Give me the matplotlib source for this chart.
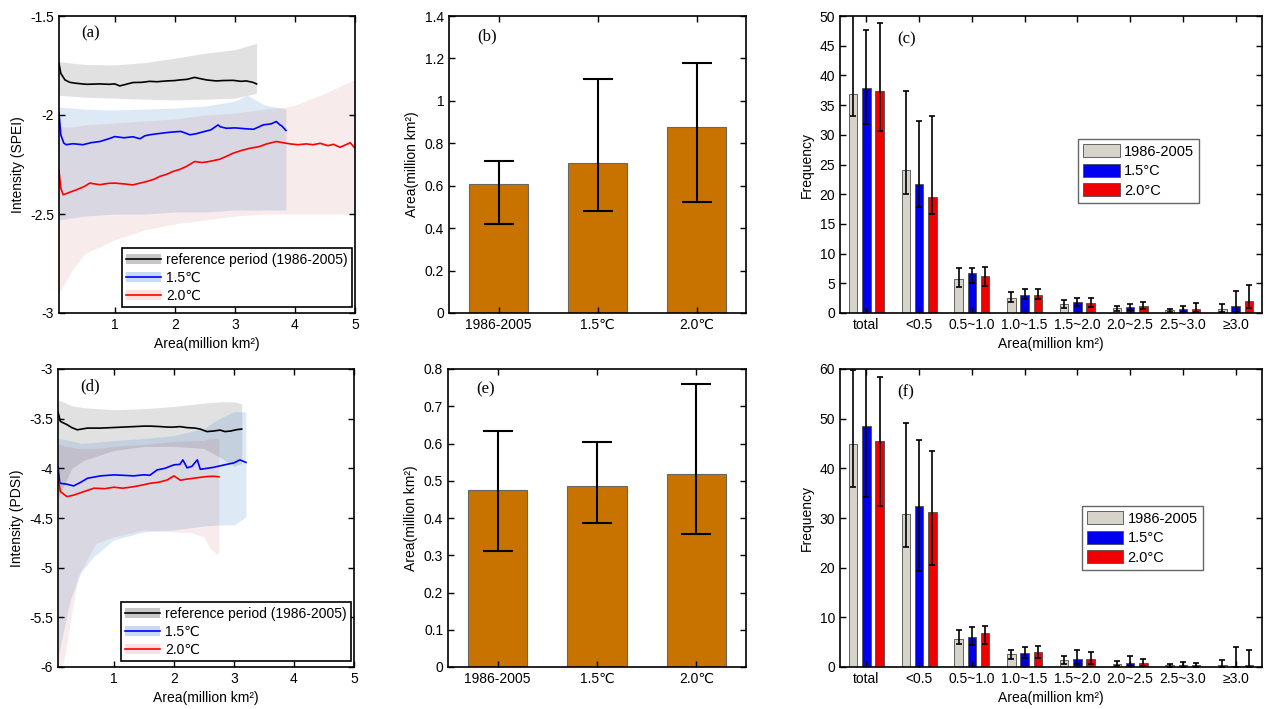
import numpy as np
import matplotlib
matplotlib.use("Agg")
import matplotlib.pyplot as plt
from matplotlib.patches import Patch
from matplotlib.lines import Line2D
from matplotlib.ticker import FuncFormatter

plt.rcParams["font.family"] = ["Liberation Sans", "DejaVu Sans"]
plt.rcParams["font.size"] = 10
plt.rcParams["axes.unicode_minus"] = False

# ---------------- data: panel (a) SPEI ----------------
spei_ref_x = [0.07, 0.1, 0.17, 0.25, 0.36, 0.53, 0.75, 0.9, 1.0, 1.08, 1.15, 1.3, 1.45, 1.58, 1.7,
              1.86, 2.0, 2.08, 2.2, 2.33, 2.4, 2.53, 2.69, 2.8, 2.97, 3.1, 3.19, 3.3, 3.36]
spei_ref_y = [-1.74, -1.79, -1.823, -1.835, -1.84, -1.845, -1.843, -1.845, -1.843, -1.853, -1.848,
              -1.836, -1.835, -1.83, -1.832, -1.828, -1.826, -1.823, -1.82, -1.81, -1.815, -1.823,
              -1.828, -1.826, -1.825, -1.83, -1.828, -1.835, -1.843]
spei_15_x = [0.07, 0.1, 0.15, 0.19, 0.3, 0.47, 0.6, 0.75, 0.9, 1.0, 1.15, 1.3, 1.42, 1.5, 1.58, 1.7,
             1.86, 2.0, 2.1, 2.25, 2.35, 2.47, 2.6, 2.72, 2.76, 2.86, 3.0, 3.08, 3.2, 3.31, 3.4, 3.47,
             3.6, 3.69, 3.75, 3.78, 3.85]
spei_15_y = [-1.99, -2.1, -2.142, -2.15, -2.145, -2.15, -2.14, -2.134, -2.12, -2.109, -2.115, -2.11,
             -2.12, -2.105, -2.10, -2.095, -2.089, -2.085, -2.083, -2.1, -2.095, -2.085, -2.075, -2.05,
             -2.06, -2.067, -2.065, -2.067, -2.07, -2.072, -2.06, -2.05, -2.045, -2.033, -2.05, -2.055,
             -2.078]
spei_20_x = [0.07, 0.1, 0.14, 0.25, 0.36, 0.5, 0.58, 0.75, 0.9, 1.0, 1.15, 1.3, 1.53, 1.65, 1.75, 1.86,
             1.97, 2.08, 2.19, 2.33, 2.45, 2.53, 2.65, 2.75, 2.85, 2.97, 3.1, 3.25, 3.4, 3.53, 3.69, 3.8,
             3.92, 4.05, 4.19, 4.3, 4.42, 4.55, 4.64, 4.75, 4.85, 4.92, 5.0]
spei_20_y = [-2.28, -2.37, -2.403, -2.39, -2.378, -2.36, -2.344, -2.352, -2.345, -2.344, -2.348, -2.353,
             -2.336, -2.325, -2.31, -2.3, -2.285, -2.275, -2.26, -2.235, -2.24, -2.237, -2.23, -2.223,
             -2.21, -2.193, -2.18, -2.168, -2.16, -2.146, -2.134, -2.14, -2.146, -2.15, -2.146, -2.15,
             -2.143, -2.155, -2.148, -2.163, -2.15, -2.14, -2.168]
# uncertainty ranges
spei_ref_band_x = [0.07, 0.5, 1.0, 1.5, 2.0, 2.5, 3.0, 3.36]
spei_ref_band_hi = [-1.73, -1.745, -1.747, -1.735, -1.713, -1.688, -1.67, -1.638]
spei_ref_band_lo = [-1.90, -1.91, -1.915, -1.92, -1.924, -1.92, -1.915, -1.89]
spei_15_band_x = [0.07, 0.5, 1.0, 1.5, 2.0, 2.5, 3.0, 3.2, 3.5, 3.85]
spei_15_band_hi = [-1.96, -1.97, -1.975, -1.97, -1.965, -1.955, -1.93, -1.90, -1.95, -1.97]
spei_15_band_lo = [-2.53, -2.51, -2.50, -2.50, -2.49, -2.49, -2.48, -2.48, -2.48, -2.48]
spei_20_band_x = [0.07, 0.3, 0.5, 1.0, 1.5, 2.0, 2.5, 3.0, 3.5, 3.85, 4.0, 4.5, 5.0]
spei_20_band_hi = [-2.06, -2.06, -2.05, -2.04, -2.03, -2.02, -2.0, -1.99, -1.97, -1.96, -1.95, -1.89, -1.82]
spei_20_band_lo = [-2.9, -2.78, -2.7, -2.63, -2.58, -2.55, -2.53, -2.51, -2.5, -2.5, -2.5, -2.5, -2.5]

# ---------------- data: panel (d) PDSI ----------------
pdsi_ref_x = [0.07, 0.11, 0.22, 0.3, 0.39, 0.56, 0.78, 1.0, 1.15, 1.33, 1.5, 1.61, 1.78, 1.9, 2.0, 2.1,
              2.22, 2.35, 2.44, 2.55, 2.65, 2.77, 2.85, 2.94, 3.05, 3.13]
pdsi_ref_y = [-3.43, -3.528, -3.56, -3.59, -3.612, -3.595, -3.595, -3.589, -3.585, -3.58, -3.575, -3.575,
              -3.58, -3.585, -3.585, -3.58, -3.59, -3.595, -3.605, -3.63, -3.625, -3.615, -3.63, -3.625,
              -3.61, -3.605]
pdsi_15_x = [0.07, 0.1, 0.22, 0.33, 0.45, 0.56, 0.78, 1.0, 1.15, 1.33, 1.5, 1.6, 1.72, 1.85, 2.0, 2.1,
             2.15, 2.22, 2.3, 2.39, 2.44, 2.55, 2.66, 2.77, 2.88, 3.0, 3.1, 3.2]
pdsi_15_y = [-3.98, -4.15, -4.16, -4.177, -4.14, -4.1, -4.076, -4.066, -4.07, -4.076, -4.065, -4.07,
             -4.016, -4.0, -3.965, -3.96, -3.915, -3.995, -3.98, -3.915, -4.01, -4.0, -3.99, -3.975,
             -3.96, -3.945, -3.915, -3.94]
pdsi_20_x = [0.07, 0.11, 0.22, 0.33, 0.45, 0.67, 0.85, 1.0, 1.15, 1.33, 1.5, 1.61, 1.75, 1.89, 2.0, 2.11,
             2.2, 2.33, 2.45, 2.55, 2.65, 2.75]
pdsi_20_y = [-4.1, -4.234, -4.285, -4.27, -4.245, -4.2, -4.205, -4.19, -4.2, -4.185, -4.165, -4.15, -4.14,
             -4.117, -4.076, -4.12, -4.11, -4.1, -4.09, -4.083, -4.08, -4.085]
pdsi_ref_band_x = [0.07, 0.3, 0.5, 1.0, 1.5, 2.0, 2.5, 2.8, 3.0, 3.13]
pdsi_ref_band_hi = [-3.31, -3.37, -3.39, -3.41, -3.40, -3.377, -3.343, -3.33, -3.33, -3.35]
pdsi_ref_band_lo = [-4.3, -4.0, -3.92, -3.82, -3.78, -3.78, -3.80, -3.9, -3.98, -3.95]
pdsi_15_band_x = [0.07, 0.27, 0.45, 0.66, 1.0, 1.5, 2.0, 2.5, 2.75, 3.0, 3.2]
pdsi_15_band_hi = [-3.7, -3.72, -3.75, -3.74, -3.72, -3.7, -3.67, -3.6, -3.5, -3.43, -3.43]
pdsi_15_band_lo = [-5.9, -5.33, -5.05, -4.89, -4.72, -4.64, -4.62, -4.58, -4.57, -4.57, -4.49]
pdsi_20_band_x = [0.07, 0.2, 0.4, 0.7, 1.0, 1.5, 2.0, 2.3, 2.5, 2.6, 2.7, 2.75]
pdsi_20_band_hi = [-3.75, -3.78, -3.8, -3.8, -3.78, -3.76, -3.73, -3.72, -3.72, -3.7, -3.7, -3.7]
pdsi_20_band_lo = [-6.2, -5.83, -5.09, -4.756, -4.69, -4.62, -4.64, -4.65, -4.69, -4.8, -4.86, -4.86]

# ---------------- data: panels (b), (e) mean area ----------------
periods = ["1986-2005", "1.5\u2103", "2.0\u2103"]
spei_area = [0.607, 0.708, 0.879]
spei_area_lo = [0.421, 0.480, 0.521]
spei_area_hi = [0.717, 1.104, 1.180]
pdsi_area = [0.475, 0.486, 0.518]
pdsi_area_lo = [0.311, 0.386, 0.357]
pdsi_area_hi = [0.634, 0.605, 0.761]

# ---------------- data: panels (c), (f) frequency ----------------
size_classes = ["total", "<0.5", "0.5~1.0", "1.0~1.5", "1.5~2.0", "2.0~2.5", "2.5~3.0", "\u22653.0"]
scen_labels = ["1986-2005", "1.5\u00b0C", "2.0\u00b0C"]

spei_freq_ref = [36.8, 24.1, 5.7, 2.6, 1.57, 0.84, 0.5, 0.73]
spei_freq_ref_lo = [33.1, 20.1, 4.4, 1.85, 0.8, 0.4, 0.17, 0.1]
spei_freq_ref_hi = [52.0, 37.3, 7.6, 3.5, 2.24, 1.23, 0.73, 1.46]
spei_freq_15 = [37.9, 21.7, 6.8, 3.1, 1.85, 1.0, 0.67, 1.12]
spei_freq_15_lo = [31.9, 17.8, 5.0, 2.35, 1.1, 0.45, 0.22, 0.22]
spei_freq_15_hi = [47.6, 32.4, 7.6, 4.1, 2.47, 1.57, 1.23, 3.76]
spei_freq_20 = [37.4, 19.6, 6.3, 3.1, 1.74, 1.23, 0.67, 2.07]
spei_freq_20_lo = [30.7, 16.7, 4.6, 2.35, 1.0, 0.67, 0.17, 0.84]
spei_freq_20_hi = [48.9, 33.2, 7.7, 4.0, 2.47, 1.8, 1.68, 4.65]

pdsi_freq_ref = [44.9, 30.8, 5.7, 2.55, 1.35, 0.67, 0.34, 0.47]
pdsi_freq_ref_lo = [36.3, 24.2, 4.6, 1.7, 0.67, 0.27, 0.07, 0.07]
pdsi_freq_ref_hi = [59.7, 49.1, 7.4, 3.4, 2.15, 1.2, 0.54, 1.35]
pdsi_freq_15 = [48.6, 32.4, 6.05, 2.8, 1.7, 0.8, 0.47, 0.27]
pdsi_freq_15_lo = [34.3, 19.3, 4.4, 1.9, 0.54, 0.27, 0.07, 0.07]
pdsi_freq_15_hi = [61.0, 45.7, 8.1, 4.0, 3.5, 2.3, 1.1, 4.0]
pdsi_freq_20 = [45.5, 31.3, 6.9, 3.0, 1.7, 0.8, 0.4, 0.47]
pdsi_freq_20_lo = [32.5, 20.5, 4.6, 1.9, 0.67, 0.27, 0.07, 0.07]
pdsi_freq_20_hi = [58.3, 43.4, 8.3, 4.2, 3.0, 1.6, 0.8, 3.5]

# ---------------- styles ----------------
W, H = 1269, 709
band_style = [("0.5", 0.23), ((0.13, 0.45, 0.78), 0.15), ((0.65, 0.0, 0.0), 0.08)]
legend_patch = ["0.78", (0.78, 0.86, 0.96), (0.98, 0.88, 0.88)]
line_colors = ["black", "blue", "red"]
bar_brown = "#C87300"
freq_colors = ["#D6D3CA", "#0000F0", "#F00000"]
fmt = FuncFormatter(lambda v, p: "%g" % v)
km2 = "Area(million km\u00b2)"


def px_axes(fig, left, right, top, bottom):
    return fig.add_axes([left / W, (H - bottom) / H, (right - left) / W, (bottom - top) / H])


def style_axes(ax):
    ax.tick_params(direction="in", top=True, right=True, length=4, width=1, labelsize=10)
    for s in ax.spines.values():
        s.set_linewidth(1.2)
    ax.yaxis.set_major_formatter(fmt)
    ax.xaxis.set_major_formatter(fmt)


def panel_tag(ax, x, y, tag):
    ax.text(x, y, tag, transform=ax.transAxes, family="Liberation Serif", fontsize=12,
            va="center")


def line_panel(ax, bands, lines, ylim, ylabel, tag):
    for (bx, lo, hi), (c, a) in zip(bands, band_style):
        ax.fill_between(bx, lo, hi, color=c, alpha=a, linewidth=0)
    for (lx, ly), c in zip(lines, line_colors):
        ax.plot(lx, ly, color=c, linewidth=1.2)
    ax.set_xlim(0.07, 5)
    ax.set_ylim(*ylim)
    ax.set_xticks([1, 2, 3, 4, 5])
    ax.set_yticks(np.arange(ylim[0], ylim[1] + 0.01, 0.5))
    style_axes(ax)
    ax.set_xlabel(km2, fontsize=10)
    ax.set_ylabel(ylabel, fontsize=10)
    panel_tag(ax, 0.075, 0.94, tag)
    handles = [(Patch(facecolor=pc, edgecolor="none"), Line2D([], [], color=lc, linewidth=1.2))
               for pc, lc in zip(legend_patch, line_colors)]
    leg = ax.legend(handles, ["reference period (1986-2005)", "1.5\u2103", "2.0\u2103"],
                    loc="lower right", bbox_to_anchor=(0.99, 0.02), borderaxespad=0,
                    fancybox=False, edgecolor="black", framealpha=1, fontsize=10,
                    handlelength=2.5, labelspacing=0.3, handletextpad=0.4, borderpad=0.3)
    leg.get_frame().set_linewidth(1.2)


def area_panel(ax, vals, lo, hi, ylim, step, tag):
    x = np.arange(1, len(vals) + 1)
    yerr = [np.array(vals) - np.array(lo), np.array(hi) - np.array(vals)]
    ax.bar(x, vals, width=0.6, color=bar_brown, edgecolor="0.4", linewidth=0.8)
    ax.errorbar(x, vals, yerr=yerr, fmt="none", ecolor="black", elinewidth=1.5,
                capsize=11, capthick=1.5)
    ax.set_xlim(0.5, 3.5)
    ax.set_ylim(*ylim)
    ax.set_yticks(np.arange(0, ylim[1] + step / 2, step))
    ax.set_xticks(x)
    style_axes(ax)
    ax.set_xticklabels(periods)
    ax.set_ylabel(km2, fontsize=10)
    panel_tag(ax, 0.094, 0.93, tag)


def freq_panel(ax, series, ylim, step, tag, leg_anchor):
    x = np.arange(1, len(size_classes) + 1)
    offsets = [-0.25, 0, 0.25]
    for (v, lo, hi), c, off, lab in zip(series, freq_colors, offsets, scen_labels):
        v = np.array(v)
        yerr = [v - np.array(lo), np.array(hi) - v]
        ax.bar(x + off, v, width=0.16, color=c, edgecolor="0.3", linewidth=0.6, label=lab)
        ax.errorbar(x + off, v, yerr=yerr, fmt="none", ecolor="black", elinewidth=1.2,
                    capsize=2, capthick=1.2)
    ax.set_xlim(0.5, 8.5)
    ax.set_ylim(*ylim)
    ax.set_yticks(np.arange(0, ylim[1] + step / 2, step))
    ax.set_xticks(x)
    style_axes(ax)
    ax.set_xticklabels(size_classes)
    ax.set_ylabel("Frequency", fontsize=10)
    ax.set_xlabel(km2, fontsize=10)
    panel_tag(ax, 0.135, 0.92, tag)
    leg = ax.legend(loc="upper left", bbox_to_anchor=leg_anchor, borderaxespad=0, fancybox=False,
                    edgecolor="0.4", framealpha=1, fontsize=10.5, handlelength=2.5,
                    handleheight=1.0, labelspacing=0.35, handletextpad=0.3, borderpad=0.35)
    leg.get_frame().set_linewidth(1.0)


fig = plt.figure(figsize=(W / 100, H / 100), dpi=100)

ax_a = px_axes(fig, 59, 355, 16, 313)
line_panel(ax_a,
           [(spei_ref_band_x, spei_ref_band_lo, spei_ref_band_hi),
            (spei_15_band_x, spei_15_band_lo, spei_15_band_hi),
            (spei_20_band_x, spei_20_band_lo, spei_20_band_hi)],
           [(spei_ref_x, spei_ref_y), (spei_15_x, spei_15_y), (spei_20_x, spei_20_y)],
           (-3, -1.5), "Intensity (SPEI)", "(a)")

ax_b = px_axes(fig, 449, 746, 16, 313)
area_panel(ax_b, spei_area, spei_area_lo, spei_area_hi, (0, 1.4), 0.2, "(b)")

ax_c = px_axes(fig, 840, 1262, 16, 313)
freq_panel(ax_c,
           [(spei_freq_ref, spei_freq_ref_lo, spei_freq_ref_hi),
            (spei_freq_15, spei_freq_15_lo, spei_freq_15_hi),
            (spei_freq_20, spei_freq_20_lo, spei_freq_20_hi)],
           (0, 50), 5, "(c)", (0.564, 0.586))

ax_d = px_axes(fig, 58, 354, 369, 667)
line_panel(ax_d,
           [(pdsi_ref_band_x, pdsi_ref_band_lo, pdsi_ref_band_hi),
            (pdsi_15_band_x, pdsi_15_band_lo, pdsi_15_band_hi),
            (pdsi_20_band_x, pdsi_20_band_lo, pdsi_20_band_hi)],
           [(pdsi_ref_x, pdsi_ref_y), (pdsi_15_x, pdsi_15_y), (pdsi_20_x, pdsi_20_y)],
           (-6, -3), "Intensity (PDSI)", "(d)")

ax_e = px_axes(fig, 448, 746, 369, 667)
area_panel(ax_e, pdsi_area, pdsi_area_lo, pdsi_area_hi, (0, 0.8), 0.1, "(e)")

ax_f = px_axes(fig, 840, 1262, 369, 667)
freq_panel(ax_f,
           [(pdsi_freq_ref, pdsi_freq_ref_lo, pdsi_freq_ref_hi),
            (pdsi_freq_15, pdsi_freq_15_lo, pdsi_freq_15_hi),
            (pdsi_freq_20, pdsi_freq_20_lo, pdsi_freq_20_hi)],
           (0, 60), 10, "(f)", (0.573, 0.54))

fig.savefig("out.png", dpi=100)
